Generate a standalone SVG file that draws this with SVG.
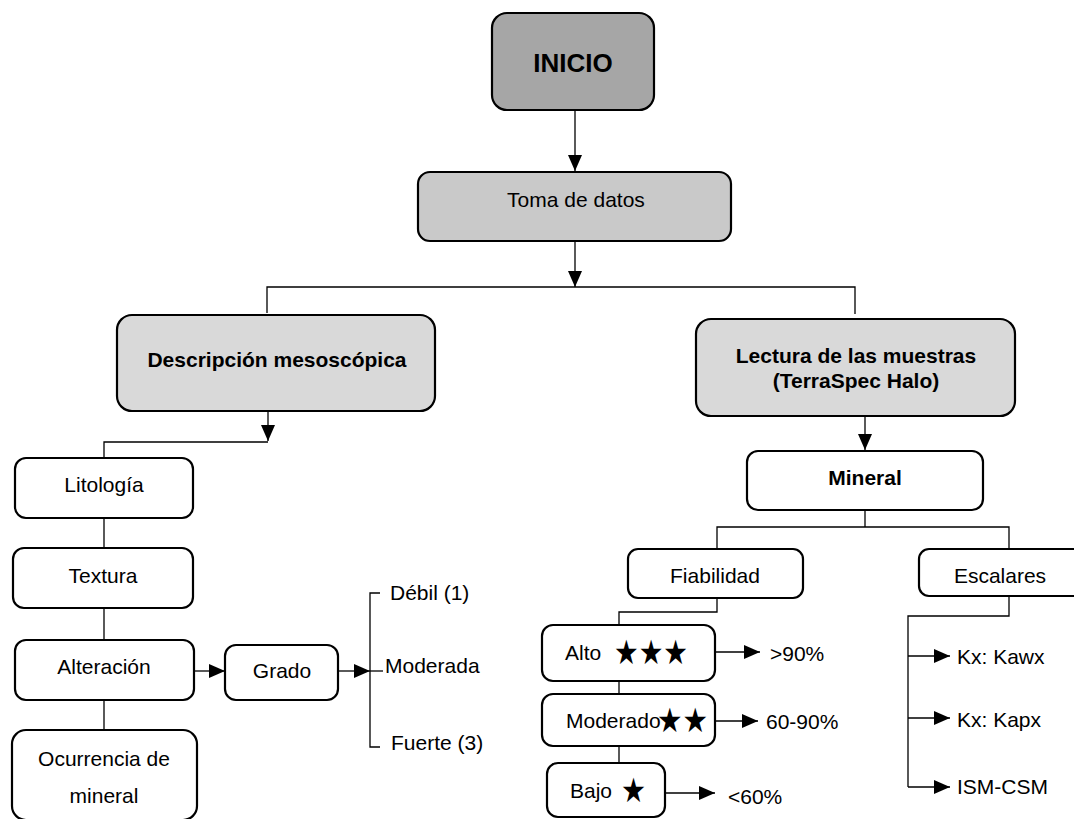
<svg xmlns="http://www.w3.org/2000/svg" width="1074" height="819" viewBox="0 0 1074 819">
<style>
.box{stroke:#000;stroke-width:2.2;fill:#fff}
.g1{fill:#a6a6a6}
.g2{fill:#c9c9c9}
.g3{fill:#d9d9d9}
.t{font-family:"Liberation Sans",Arial,sans-serif;font-size:21px;fill:#000}
.b{font-weight:bold}
.c{text-anchor:middle}
.star{font-family:"DejaVu Sans",sans-serif;font-size:34px;fill:#000}
.ln{stroke:#000;stroke-width:1.3;fill:none}
.ar{stroke:#000;stroke-width:1.3;fill:none;marker-end:url(#ah)}
</style>
<defs>
<marker id="ah" markerUnits="userSpaceOnUse" markerWidth="16" markerHeight="14" refX="16" refY="7" orient="auto">
<path d="M0,0 L16,7 L0,14 z" fill="#000"/>
</marker>
</defs>
<rect width="1074" height="819" fill="#fff"/>
<g id="connectors">
<line class="ar" x1="575" y1="110" x2="575" y2="171"/>
<line class="ar" x1="575" y1="241" x2="575" y2="287"/>
<polyline class="ln" points="267,313 267,287 855,287 855,314"/>
<line class="ar" x1="268" y1="411" x2="268" y2="441"/>
<polyline class="ln" points="104,458 104,442 268,442"/>
<line class="ln" x1="104" y1="518" x2="104" y2="548"/>
<line class="ln" x1="104" y1="608" x2="104" y2="640"/>
<line class="ln" x1="104" y1="700" x2="104" y2="730"/>
<line class="ar" x1="194" y1="671" x2="225" y2="671"/>
<line class="ar" x1="338" y1="671" x2="370" y2="671"/>
<polyline class="ln" points="380,593 370,593 370,747 380,747"/>
<line class="ln" x1="370" y1="671" x2="383" y2="671"/>
<line class="ar" x1="865" y1="416" x2="865" y2="450"/>
<line class="ln" x1="865" y1="510" x2="865" y2="527"/>
<polyline class="ln" points="717,549 717,527 1009,527 1009,549"/>
<polyline class="ln" points="717,598 717,612 619,612 619,625"/>
<line class="ln" x1="619" y1="681" x2="619" y2="694"/>
<line class="ln" x1="619" y1="746" x2="619" y2="763"/>
<line class="ar" x1="715" y1="652" x2="760" y2="652"/>
<line class="ar" x1="715" y1="721" x2="758" y2="721"/>
<line class="ar" x1="665" y1="793" x2="715" y2="793"/>
<polyline class="ln" points="1009,596 1009,616 908,616 908,787"/>
<line class="ar" x1="908" y1="656" x2="950" y2="656"/>
<line class="ar" x1="908" y1="718" x2="950" y2="718"/>
<line class="ar" x1="908" y1="787" x2="950" y2="787"/>
</g>
<g id="inicio"><rect class="box g1" x="492" y="13" width="162" height="97" rx="15"/><text class="t b c" x="573" y="72" style="font-size:26px">INICIO</text></g>
<g id="toma"><rect class="box g2" x="418" y="172" width="313" height="69" rx="12"/><text class="t c" x="576" y="207">Toma de datos</text></g>
<g id="descripcion"><rect class="box g3" x="117" y="315" width="318" height="96" rx="15"/><text class="t b c" x="277" y="367">Descripción mesoscópica</text></g>
<g id="lectura"><rect class="box g3" x="696" y="319" width="319" height="97" rx="15"/><text class="t b c" x="856" y="363">Lectura de las muestras</text><text class="t b c" x="856" y="388">(TerraSpec Halo)</text></g>
<g id="litologia"><rect class="box" x="15" y="458" width="178" height="60" rx="11"/><text class="t c" x="104" y="492">Litología</text></g>
<g id="textura"><rect class="box" x="13" y="548" width="180" height="60" rx="11"/><text class="t c" x="103" y="583">Textura</text></g>
<g id="alteracion"><rect class="box" x="15" y="640" width="179" height="60" rx="11"/><text class="t c" x="104" y="674">Alteración</text></g>
<g id="ocurrencia"><rect class="box" x="12" y="730" width="185" height="90" rx="14"/><text class="t c" x="104" y="766">Ocurrencia de</text><text class="t c" x="104" y="803">mineral</text></g>
<g id="grado"><rect class="box" x="225" y="645" width="113" height="55" rx="11"/><text class="t c" x="282" y="678">Grado</text></g>
<g id="grados"><text class="t" x="390" y="600">Débil (1)</text><text class="t" x="385" y="673">Moderada</text><text class="t" x="391" y="750">Fuerte (3)</text></g>
<g id="mineral"><rect class="box" x="747" y="451" width="236" height="59" rx="11"/><text class="t b c" x="865" y="485">Mineral</text></g>
<g id="fiabilidad"><rect class="box" x="628" y="549" width="175" height="49" rx="10"/><text class="t c" x="715" y="583">Fiabilidad</text></g>
<g id="escalares"><rect class="box" x="919" y="549" width="170" height="47" rx="10"/><text class="t c" x="1000" y="583">Escalares</text></g>
<g id="alto"><rect class="box" x="542" y="625" width="173" height="56" rx="11"/><text class="t" x="565" y="660">Alto</text><text class="star" x="614" y="664" textLength="74" lengthAdjust="spacingAndGlyphs">★★★</text></g>
<g id="moderado"><rect class="box" x="542" y="694" width="173" height="52" rx="11"/><text class="t" x="566" y="728">Moderado</text><text class="star" x="657" y="732" textLength="51" lengthAdjust="spacingAndGlyphs">★★</text></g>
<g id="bajo"><rect class="box" x="547" y="763" width="118" height="54" rx="11"/><text class="t" x="570" y="798">Bajo</text><text class="star" x="621" y="802" textLength="25" lengthAdjust="spacingAndGlyphs">★</text></g>
<g id="porcentajes"><text class="t" x="770" y="661">&gt;90%</text><text class="t" x="766" y="729">60-90%</text><text class="t" x="728" y="804">&lt;60%</text></g>
<g id="escalares-items"><text class="t" x="957" y="664">Kx: Kawx</text><text class="t" x="957" y="727">Kx: Kapx</text><text class="t" x="957" y="794">ISM-CSM</text></g>
</svg>
